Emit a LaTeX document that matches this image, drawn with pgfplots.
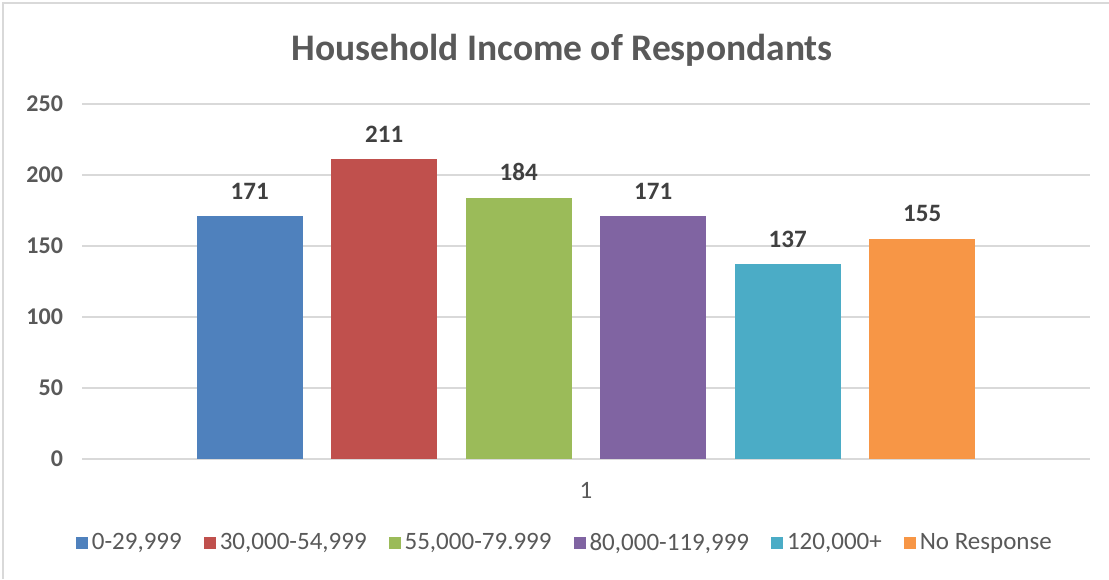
\documentclass[border=0pt]{standalone}
\usepackage{pgfplots}
\pgfplotsset{compat=1.18}
\usepackage{fontspec}
\setmainfont{Carlito}

\definecolor{cBlue}{HTML}{4F81BD}
\definecolor{cRed}{HTML}{C0504D}
\definecolor{cGreen}{HTML}{9BBB59}
\definecolor{cPurple}{HTML}{8064A2}
\definecolor{cCyan}{HTML}{4BACC6}
\definecolor{cOrange}{HTML}{F79646}
\definecolor{txt}{HTML}{595959}
\definecolor{lbl}{HTML}{404040}
\definecolor{grd}{HTML}{D9D9D9}

\begin{document}
\begin{tikzpicture}
\path[use as bounding box] (-41pt,-60pt) rectangle (513.5pt,229.5pt);
\draw[grd, line width=1.2pt] (-39.5pt,-60pt) -- (-39.5pt,228pt) -- (513.5pt,228pt);
\begin{axis}[
    at={(0,0)}, anchor=south west,
    scale only axis,
    width=504pt, height=177.5pt,
    ybar=14.25pt,
    bar width=53pt,
    xmin=-1, xmax=1,
    ymin=0, ymax=250,
    ytick={0,50,...,250},
    xtick={0}, xticklabels={1},
    ymajorgrids,
    grid style={grd, line width=0.8pt},
    axis line style={draw=none},
    major tick length=0pt,
    tick label style={font=\fontsize{12.5}{14}\selectfont, text=txt},
    yticklabel style={font=\fontsize{12}{14}\selectfont\bfseries, xshift=-6pt},
    xticklabel style={yshift=-8pt},
    /pgf/number format/assume math mode=true,
    nodes near coords,
    every node near coord/.append style={font=\fontsize{12.5}{14}\selectfont\bfseries, text=lbl, yshift=5pt},
    legend columns=6,
    legend style={draw=none, at={(0.48,-0.237)}, anchor=center,
        font=\fontsize{12.5}{14}\selectfont, text=txt,
        /tikz/every even column/.append style={column sep=9pt}},
    legend image code/.code={\fill[#1] (2pt,-3pt) rectangle (8pt,3pt);},
]
\addplot[fill=cBlue, draw=none] coordinates {(0,171)};
\addplot[fill=cRed, draw=none] coordinates {(0,211)};
\addplot[fill=cGreen, draw=none] coordinates {(0,184)};
\addplot[fill=cPurple, draw=none] coordinates {(0,171)};
\addplot[fill=cCyan, draw=none] coordinates {(0,137)};
\addplot[fill=cOrange, draw=none] coordinates {(0,155)};
\legend{0-29{,}999, 30{,}000-54{,}999, 55{,}000-79.999, 80{,}000-119{,}999, 120{,}000+, No Response}
\end{axis}
\node[font=\fontsize{18.75}{22}\selectfont\bfseries, text=txt] at (240pt,204.5pt) {Household Income of Respondants};
\end{tikzpicture}
\end{document}
